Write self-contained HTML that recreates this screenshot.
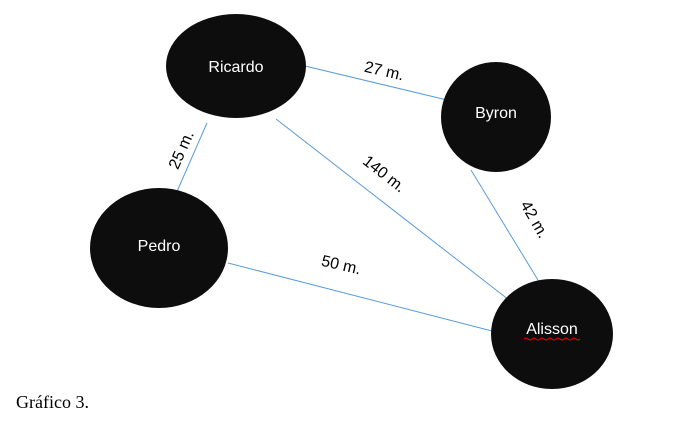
<!DOCTYPE html>
<html><head><style>
html,body{margin:0;padding:0;background:#fff;width:693px;height:425px;overflow:hidden}
</style></head><body>
<svg width="693" height="425" xmlns="http://www.w3.org/2000/svg" style="position:absolute;left:0;top:0">
<g stroke="#5b9bd5" stroke-width="1">
<line x1="305" y1="66" x2="447" y2="100"/>
<line x1="207" y1="123" x2="175" y2="196"/>
<line x1="276" y1="119" x2="509" y2="300"/>
<line x1="471" y1="170" x2="541" y2="285"/>
<line x1="228" y1="263" x2="492" y2="331"/>
</g>
<g fill="#0d0d0d">
<ellipse cx="236" cy="66" rx="70" ry="52"/>
<ellipse cx="496" cy="117" rx="55" ry="55"/>
<ellipse cx="159" cy="248" rx="69" ry="60"/>
<ellipse cx="552" cy="334" rx="61" ry="55"/>
</g>
<g font-family="Liberation Sans, sans-serif" font-size="16" fill="#fff" text-anchor="middle">
<text x="236" y="72">Ricardo</text>
<text x="496" y="118">Byron</text>
<text x="159" y="251">Pedro</text>
<text x="552" y="334">Alisson</text>
</g>
<path d="M524 339 q2 -2 4 0 q2 2 4 0 q2 -2 4 0 q2 2 4 0 q2 -2 4 0 q2 2 4 0 q2 -2 4 0 q2 2 4 0 q2 -2 4 0 q2 2 4 0 q2 -2 4 0 q2 2 4 0 q2 -2 4 0 q2 2 4 0" stroke="#e00" fill="none" stroke-width="1"/>
<g font-family="Liberation Sans, sans-serif" font-size="16" fill="#000" text-anchor="middle">
<text transform="translate(383,76) rotate(13)">27 m.</text>
<text transform="translate(186,152) rotate(-66)">25 m.</text>
<text transform="translate(381,178) rotate(38)">140 m.</text>
<text transform="translate(530,222) rotate(60)">42 m.</text>
<text transform="translate(340,270) rotate(13)">50 m.</text>
</g>
<text x="16" y="408" font-family="Liberation Serif, serif" font-size="18" fill="#000">Gráfico 3.</text>
</svg>
</body></html>
